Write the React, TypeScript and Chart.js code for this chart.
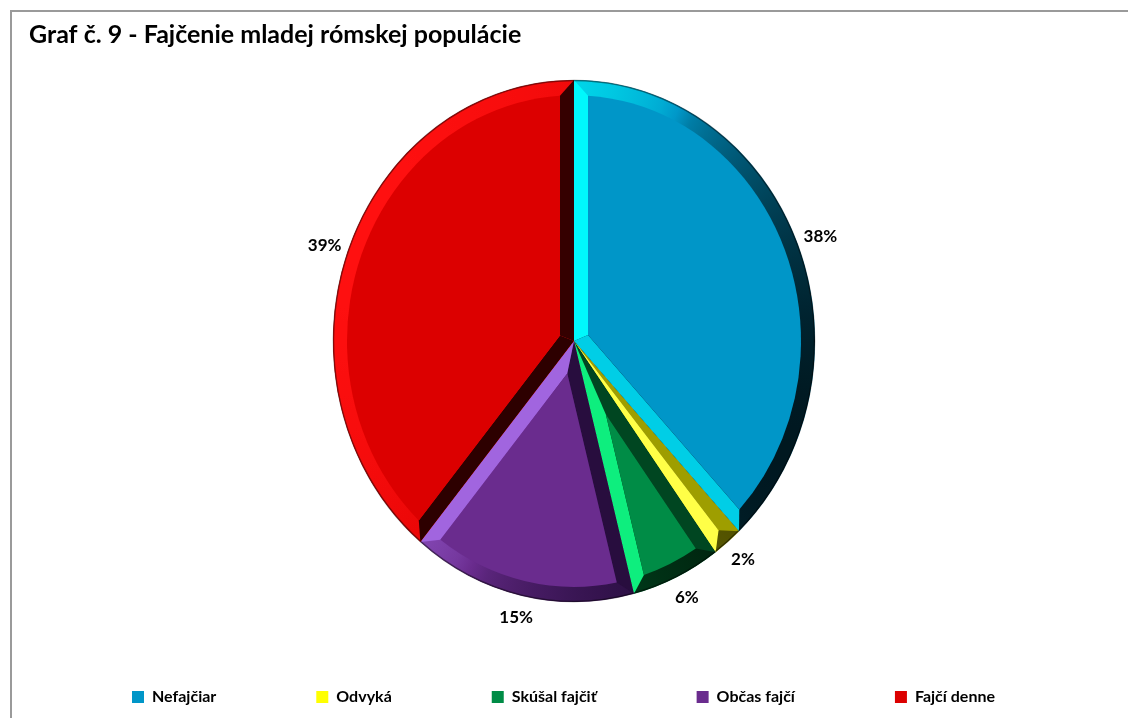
import React, { useEffect, useRef } from "react";
import { Chart, registerables } from "chart.js";

Chart.register(...registerables);

const titleText = "Graf č. 9 - Fajčenie mladej rómskej populácie";
const categories = ["Nefajčiar", "Odvyká", "Skúšal fajčiť", "Občas fajčí", "Fajčí denne"];
const shares = [38, 2, 6, 15, 39];
const shareLabels = ["38%", "2%", "6%", "15%", "39%"];

const faceColors = ["#0096C8", "#FFFF00", "#008C46", "#6A2C8E", "#DC0000"];
const lightColors = ["#00FFFF", "#FFFF70", "#10FF88", "#A266E0", "#FF1010"];
const darkColors = ["#001820", "#4A4A00", "#001E0C", "#1C0830", "#2A0000"];

const RX = 241;
const RY = 261;
const BEVEL = 14;
const LABEL_RX = 265;
const LABEL_RY = 283;
const FONT = "Lato, 'Open Sans', sans-serif";

const LIGHT_X = -0.898;
const LIGHT_Y = -0.439;

function hexToRgb(h: string) {
  const n = parseInt(h.slice(1), 16);
  return [(n >> 16) & 255, (n >> 8) & 255, n & 255];
}
function mix(a: string, b: string, t: number) {
  const A = hexToRgb(a);
  const B = hexToRgb(b);
  const c = A.map((v, k) => Math.round(v + (B[k] - v) * t));
  return `rgb(${c[0]},${c[1]},${c[2]})`;
}
function shade(i: number, d: number) {
  const t = Math.min(1, Math.pow(Math.abs(d), 0.6));
  return d >= 0 ? mix(faceColors[i], lightColors[i], t) : mix(faceColors[i], darkColors[i], t);
}
const dotN = (nx: number, ny: number) => nx * LIGHT_X + ny * LIGHT_Y;

const bevelPlugin = {
  id: "bevelPie",
  beforeDatasetsDraw(chart: any) {
    const meta = chart.getDatasetMeta(0);
    const el = meta.data[0];
    const ctx = chart.ctx;
    ctx.save();
    if (!el) return;
    const { x, y } = el.getProps(["x", "y"], true);
    ctx.translate(x, y);
    ctx.scale(1, RY / RX);
    ctx.translate(-x, -y);
  },
  afterDatasetsDraw(chart: any) {
    const ctx = chart.ctx;
    const meta = chart.getDatasetMeta(0);
    let cx = 0;
    let cy = 0;
    meta.data.forEach((el: any, i: number) => {
      const p = el.getProps(["x", "y", "startAngle", "endAngle", "outerRadius"], true);
      const x = p.x;
      const y = p.y;
      cx = x;
      cy = y;
      const sa = p.startAngle;
      const ea = p.endAngle;
      const r = p.outerRadius;
      const span = ea - sa;
      if (span <= 0) return;
      const B = BEVEL;
      const inner = r - B;
      const half = span / 2;
      const bis = sa + half;
      const delta = Math.asin(Math.min(1, B / inner));
      const hasFace = half > delta;
      let ad = B / Math.sin(Math.min(half, Math.PI / 2));
      if (!hasFace) ad = Math.min(ad, inner);
      const Ax = x + Math.cos(bis) * ad;
      const Ay = y + Math.sin(bis) * ad;
      const Psx = x + r * Math.cos(sa), Psy = y + r * Math.sin(sa);
      const Pex = x + r * Math.cos(ea), Pey = y + r * Math.sin(ea);
      const Csx = x + inner * Math.cos(sa + delta), Csy = y + inner * Math.sin(sa + delta);
      const Cex = x + inner * Math.cos(ea - delta), Cey = y + inner * Math.sin(ea - delta);

      ctx.save();
      ctx.beginPath();
      ctx.moveTo(x, y);
      ctx.arc(x, y, r, sa, ea);
      ctx.closePath();
      ctx.clip();

      const g = ctx.createConicGradient(0, x, y);
      const steps = 90;
      for (let k = 0; k <= steps; k++) {
        const phi = (k / steps) * Math.PI * 2;
        g.addColorStop(k / steps, shade(i, dotN(Math.cos(phi), Math.sin(phi))));
      }
      ctx.fillStyle = g;
      ctx.fill();

      const ns = dotN(Math.sin(sa), -Math.cos(sa));
      ctx.beginPath();
      ctx.moveTo(x, y);
      ctx.lineTo(Psx, Psy);
      if (hasFace) ctx.lineTo(Csx, Csy);
      ctx.lineTo(Ax, Ay);
      ctx.closePath();
      ctx.fillStyle = shade(i, ns);
      ctx.fill();

      const ne = dotN(-Math.sin(ea), Math.cos(ea));
      ctx.beginPath();
      ctx.moveTo(x, y);
      ctx.lineTo(Ax, Ay);
      if (hasFace) ctx.lineTo(Cex, Cey);
      ctx.lineTo(Pex, Pey);
      ctx.closePath();
      ctx.fillStyle = shade(i, ne);
      ctx.fill();

      if (hasFace) {
        ctx.beginPath();
        ctx.moveTo(Ax, Ay);
        ctx.lineTo(Csx, Csy);
        ctx.arc(x, y, inner, sa + delta, ea - delta);
        ctx.closePath();
        ctx.fillStyle = faceColors[i];
        ctx.fill();
      }
      ctx.restore();

      ctx.beginPath();
      ctx.arc(x, y, r - 0.5, sa, ea);
      ctx.strokeStyle = "rgba(0,0,0,0.45)";
      ctx.lineWidth = 1.5;
      ctx.stroke();
    });
    ctx.restore();

    ctx.save();
    ctx.font = `bold 17px ${FONT}`;
    ctx.fillStyle = "#000";
    ctx.textAlign = "center";
    ctx.textBaseline = "middle";
    meta.data.forEach((el: any, i: number) => {
      const p = el.getProps(["startAngle", "endAngle"], true);
      const mid = (p.startAngle + p.endAngle) / 2;
      ctx.fillText(shareLabels[i], cx + Math.cos(mid) * LABEL_RX, cy + Math.sin(mid) * LABEL_RY);
    });
    ctx.restore();
  },
};

export default function App() {
  const ref = useRef<HTMLCanvasElement | null>(null);
  useEffect(() => {
    if (!ref.current) return;
    const chart = new Chart(ref.current, {
      type: "pie",
      data: {
        labels: categories,
        datasets: [
          {
            data: shares,
            backgroundColor: faceColors,
            borderWidth: 0,
            radius: RX,
            clip: false,
          } as any,
        ],
      },
      options: {
        responsive: false,
        animation: false,
        events: [],
        layout: { padding: { left: 29, right: 30, top: 0, bottom: 3 } },
        plugins: {
          title: {
            display: true,
            text: titleText,
            align: "start",
            color: "#000",
            font: { family: FONT, size: 25, weight: "bold", lineHeight: 1.2 },
            padding: { top: 20, bottom: 43 },
          },
          subtitle: {
            display: true,
            text: "",
            position: "left",
            fullSize: false,
            font: { size: 1, lineHeight: 1 },
            padding: { top: 0, bottom: 20 },
          },
          legend: {
            display: true,
            position: "bottom",
            labels: {
              boxWidth: 12,
              boxHeight: 12,
              padding: 100,
              color: "#000",
              font: { family: FONT, size: 16, weight: "bold" },
            },
          },
          tooltip: { enabled: false },
        },
      } as any,
      plugins: [bevelPlugin as any],
    });
    return () => chart.destroy();
  }, []);

  return (
    <div style={{ position: "fixed", left: 0, top: 0, width: 1128, height: 718, overflow: "hidden", background: "#fff" }}>
      <div
        style={{
          position: "absolute",
          left: 10,
          top: 10,
          width: 1200,
          height: 800,
          border: "2px solid #9a9a9a",
          boxSizing: "border-box",
        }}
      />
      <canvas ref={ref} width={1128} height={718} style={{ position: "absolute", left: 0, top: 0, width: 1128, height: 718 }} />
    </div>
  );
}
